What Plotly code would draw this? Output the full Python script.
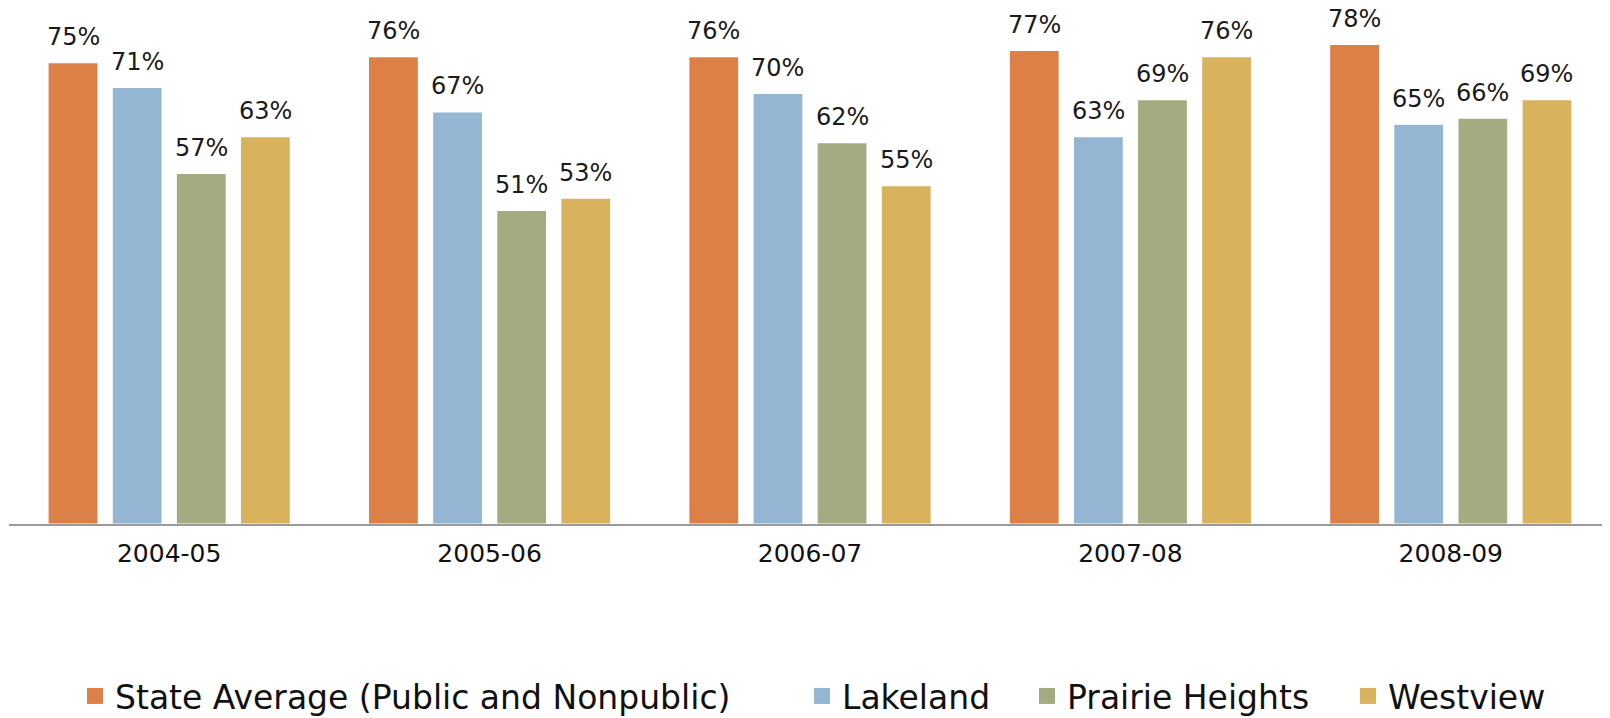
import plotly.graph_objects as go

years = ["2004-05", "2005-06", "2006-07", "2007-08", "2008-09"]
series_names = ["State Average (Public and Nonpublic)", "Lakeland", "Prairie Heights", "Westview"]
state_avg = [75, 76, 76, 77, 78]
lakeland = [71, 67, 70, 63, 65]
prairie_heights = [57, 51, 62, 69, 66]
westview = [63, 53, 55, 76, 69]
colors = ["#DD8047", "#94B6D2", "#A5AB81", "#D8B25C"]

all_values = [state_avg, lakeland, prairie_heights, westview]
FONT = "DejaVu Sans"

fig = go.Figure()
legend_ids = ["legend", "legend2", "legend3", "legend4"]
for i, (name, vals, col) in enumerate(zip(series_names, all_values, colors)):
    fig.add_trace(go.Bar(
        x=years, y=vals, name=name,
        marker=dict(color=col, line=dict(color="white", width=1.2)),
        showlegend=False,
        hoverinfo="skip",
    ))
for i, (name, col) in enumerate(zip(series_names, colors)):
    # legend entry with a larger square swatch, on a hidden helper axis
    fig.add_trace(go.Scatter(
        x=[None], y=[None], mode="markers", name=name,
        marker=dict(symbol="square", size=16, color=col),
        legend=legend_ids[i], showlegend=True,
        xaxis="x2", yaxis="y2",
    ))

slot = 64.05
for i, vals in enumerate(all_values):
    for yr, v in zip(years, vals):
        fig.add_annotation(
            x=yr, y=v, text=f"{v}%", showarrow=False,
            xref="x", yref="y", yanchor="bottom",
            height=24, borderpad=0, valign="middle",
            xshift=(i - 1.5) * slot, yshift=12.5,
            font=dict(family=FONT, size=24, color="#1a1a1a"),
        )

W, H = 1610, 718
legend_x = [67, 794, 1019, 1340]
legend_common = dict(orientation="h", yanchor="middle", xanchor="left",
                     font=dict(family=FONT, size=33, color="#111111"),
                     bgcolor="rgba(0,0,0,0)", xref="container", yref="container")
layout_legends = {}
for lid, lx in zip(legend_ids, legend_x):
    d = dict(legend_common)
    d["x"] = lx / W
    d["y"] = 1 - 688 / H
    layout_legends[lid] = d

fig.update_layout(
    width=W, height=H,
    margin=dict(l=1.4, r=7.35, t=0, b=201.5, autoexpand=False),
    plot_bgcolor="white", paper_bgcolor="white",
    barmode="group", bargap=0.1994, bargroupgap=0.22,
    showlegend=True,
    xaxis=dict(type="category", categoryorder="array", categoryarray=years,
               range=[-0.5, len(years) - 0.5],
               showline=True, linecolor="#9a9a9a", linewidth=2, ticks="",
               ticklabelstandoff=6,
               tickfont=dict(family=FONT, size=25, color="#111111"),
               showgrid=False, zeroline=False),
    yaxis=dict(range=[0, 83.9], visible=False, showgrid=False, zeroline=False),
    xaxis2=dict(overlaying="x", visible=False, range=[0, 1]),
    yaxis2=dict(overlaying="y", visible=False, range=[0, 1]),
    **layout_legends,
)
fig.write_html("out.html")
